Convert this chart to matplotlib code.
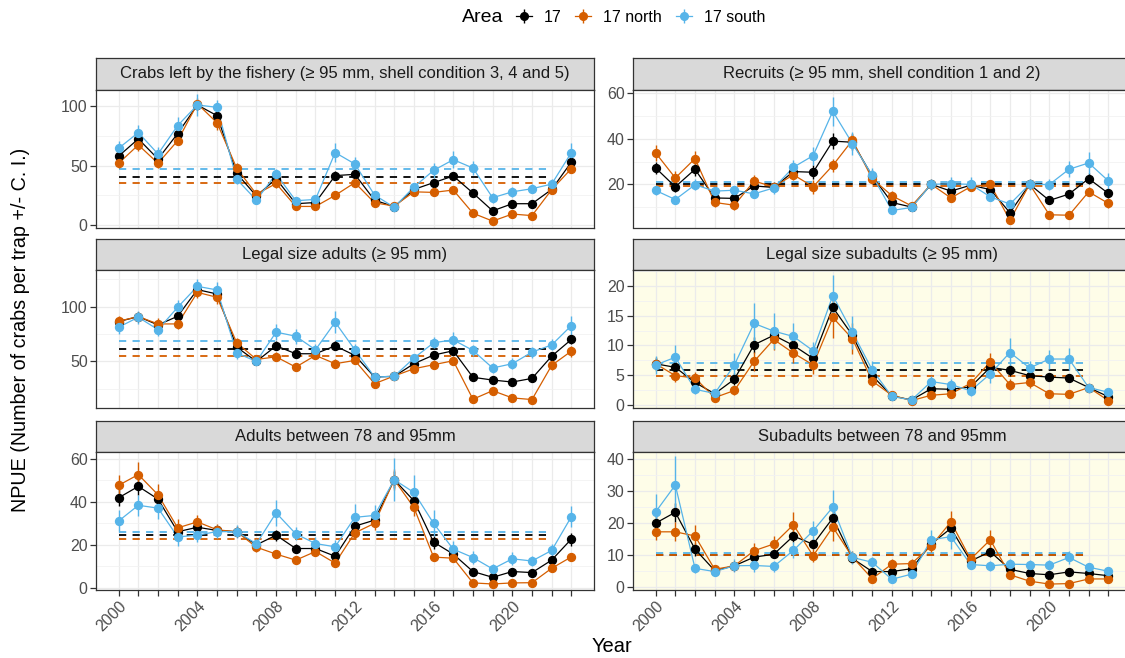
import matplotlib
matplotlib.use('Agg')
from matplotlib import pyplot as plt
from matplotlib.lines import Line2D
from matplotlib.legend_handler import HandlerTuple
from matplotlib.ticker import MultipleLocator

plt.rcParams['font.family'] = ['Liberation Sans', 'DejaVu Sans']

years = list(range(2000, 2024))
areas = ['17', '17 north', '17 south']
colors = ['#000000', '#D55E00', '#56B4E9']

# crabs left by the fishery
left_17 = [58, 72.5, 55.6, 77, 101, 92, 43.5, 24.4, 39, 18, 19, 41.6, 42.7, 21, 15.5, 30, 35.7, 41.3, 27, 12, 18, 18, 30, 53]
left_north = [52, 67.4, 52, 71, 102, 86, 47.8, 26, 35, 15.7, 15.7, 25, 35.7, 18.8, 16, 28, 27.5, 29.5, 10, 3.4, 9.3, 8, 29.8, 47.5]
left_south = [64.6, 77.8, 59.8, 83.7, 101, 99, 38.5, 21, 43, 20.5, 21.6, 61, 51.4, 25.3, 15, 32, 46, 55, 48, 23, 28, 30.6, 34.5, 61]
left_17_ci = [3, 3, 3, 3, 4, 4, 3, 2, 3, 2, 2, 4, 3, 2, 2, 2, 3, 3, 3, 2, 2, 2, 2, 3]
left_north_ci = [4, 5, 4, 4, 5, 6, 4, 3, 4, 3, 2, 3, 4, 3, 2, 3, 3, 3, 3, 2, 2, 2, 3, 4]
left_south_ci = [6, 6, 6, 7, 9, 6, 4, 3, 4, 3, 3, 8, 6, 3, 2, 3, 6, 7, 6, 4, 4, 4, 4, 8]
left_means = [40.7, 35.4, 47]

# recruits
rec_17 = [27.2, 18.9, 26.6, 14, 13.8, 19.3, 18.6, 25.6, 25.3, 39, 38.5, 23.7, 12, 10, 20, 17, 19.6, 17.7, 7.5, 20, 12.9, 15.7, 22.5, 16]
rec_north = [33.8, 22.8, 31.3, 12, 10.8, 21.4, 18.9, 24.2, 18.9, 28.3, 39.4, 22.5, 15, 10.5, 20, 14, 18.9, 20, 4.2, 20, 6.6, 6.4, 16.7, 11.6]
rec_south = [17.3, 13.3, 19.8, 17, 17.4, 15.8, 18.4, 27.5, 32.6, 52.1, 37.9, 24, 8.5, 9.8, 20, 20.2, 20, 14.5, 11.3, 20, 19.9, 26.6, 29.4, 21.5]
rec_17_ci = [2.5, 2.5, 3, 2, 2, 2, 2, 2.5, 3, 3.5, 3.5, 2.5, 2, 1.5, 2, 2, 2, 2, 1.5, 2, 1.5, 2, 2.5, 2]
rec_north_ci = [3.5, 3, 3.5, 2, 2, 2.5, 2, 2.5, 3, 3, 3, 2.5, 2, 1.5, 2, 2, 2, 2, 1.5, 2, 1.5, 1.5, 2, 2]
rec_south_ci = [2, 2, 2.5, 2, 2, 2, 2.5, 3, 4, 6.5, 5, 3, 1.5, 1.5, 2.5, 3, 3, 2, 2, 2.5, 2.5, 3.5, 5, 3.5]
rec_means = [20.2, 19.2, 21.2]

# legal size adults
legal_17 = [86.4, 90.9, 83.3, 91.2, 115.5, 111.5, 63, 50, 64.2, 57, 57, 64.2, 55.5, 35.8, 36.4, 47.9, 55.8, 59.7, 35.5, 33, 31.2, 34.5, 54.8, 70]
legal_north = [86.7, 90.9, 84.2, 84.2, 113, 108.5, 67, 51.8, 54.2, 44.8, 55.5, 47.9, 50.9, 29.7, 36.7, 43.3, 47, 50.6, 15.5, 23.3, 16.7, 15.2, 46.4, 59.4]
legal_south = [81.2, 90.3, 79, 99.4, 118.5, 115.2, 57.6, 50, 76.7, 73, 60.6, 85.8, 60.6, 35.8, 36.4, 53, 67, 69.7, 60, 44, 47.9, 58.5, 65, 82.7]
legal_17_ci = [4, 4, 4, 4, 5, 5, 4, 3, 4, 3, 3, 4, 3, 3, 2, 3, 3, 4, 3, 3, 3, 3, 3, 4]
legal_north_ci = [5, 4, 5, 5, 5, 6, 4, 3, 4, 3, 3, 4, 3, 3, 2, 3, 4, 4, 3, 3, 2, 2, 4, 5]
legal_south_ci = [6, 6, 6, 7, 7, 7, 5, 3, 7, 7, 5, 10, 5, 3, 2, 4, 5, 7, 5, 5, 5, 5, 5, 9]
legal_means = [61.5, 54.8, 69]

# legal size subadults
sub_17 = [6.9, 6.3, 3.75, 1.85, 4.3, 10.1, 11.7, 10, 7.8, 16.4, 11.7, 4.9, 1.5, 0.8, 2.7, 2.6, 3, 6.3, 5.8, 4.9, 4.65, 4.5, 2.9, 1.35]
sub_north = [6.9, 4.9, 4.5, 1.2, 2.4, 7.3, 11, 8.7, 6.7, 14.7, 11.1, 4, 1.6, 0.7, 1.6, 1.85, 3.6, 7.2, 3.4, 3.75, 1.85, 1.75, 2.9, 0.7]
sub_south = [6.7, 8, 2.6, 1.9, 6.7, 13.7, 12.4, 11.5, 9.1, 18.4, 12.2, 5.9, 1.4, 0.8, 3.9, 3.4, 2.35, 5.2, 8.8, 6.2, 7.7, 7.7, 2.9, 2.1]
sub_17_ci = [1, 1, 0.7, 0.5, 1, 1.3, 1.2, 1.2, 1, 1.6, 1.3, 0.8, 0.4, 0.3, 0.6, 0.6, 0.6, 1, 0.9, 0.7, 0.7, 0.7, 0.5, 0.4]
sub_north_ci = [1.2, 1, 1, 0.5, 0.8, 1.6, 1.8, 1.6, 1.5, 3.5, 2.6, 1, 0.4, 0.3, 0.5, 0.6, 0.8, 1.5, 1, 0.9, 0.5, 0.5, 0.5, 0.4]
sub_south_ci = [1.5, 2, 0.8, 0.6, 2, 3.5, 3, 2.3, 1.5, 3.5, 2.8, 1.4, 0.4, 0.3, 1, 1, 0.8, 1.6, 2.5, 1.2, 1.6, 1.8, 0.6, 0.6]
sub_means = [5.9, 4.9, 6.95]

# adults between 78 and 95 mm
ad_17 = [41.8, 47.1, 41.2, 26, 28.1, 26.6, 26, 19.9, 24.4, 18.2, 18.2, 14.6, 28.6, 31.4, 50.2, 40.4, 21.2, 15.6, 7.5, 4.8, 7.5, 7, 12.8, 22.6]
ad_north = [47.6, 52.6, 43.2, 27.8, 30.6, 26.9, 26, 18.8, 15.6, 12.8, 16.8, 11.4, 25.5, 29.9, 50.2, 37.3, 14.2, 13.7, 2.2, 1.7, 2.2, 2.3, 9, 14.3]
ad_south = [31, 38.3, 37, 23.6, 24.4, 26.1, 26, 20.4, 34.8, 25, 20.5, 19, 32.7, 33.6, 50.2, 44.3, 29.9, 17.9, 14, 8.7, 13.4, 12.4, 17.3, 33]
ad_17_ci = [4, 4, 3, 2.5, 2.5, 2, 2, 2, 2.5, 2, 2, 2, 3, 3, 4, 3.5, 3, 2, 1.5, 1, 1.5, 1.5, 2, 3]
ad_north_ci = [5, 6, 5, 4, 3, 2.5, 2.5, 2, 2, 2, 2, 2, 3, 3, 5, 4, 2, 2, 1, 0.8, 1, 1, 1.5, 2]
ad_south_ci = [5, 5, 5, 4, 3, 3, 3, 2, 6, 3, 3, 3, 6, 5, 10, 8, 6, 4, 3, 2.5, 3, 2.5, 3, 5]
ad_means = [24.3, 22.6, 26.1]

# subadults between 78 and 95 mm
sa_17 = [20, 23.4, 11.9, 5.2, 6.7, 9.4, 10.3, 16, 13.4, 21.6, 9, 4.9, 4.9, 5.8, 13.5, 18.4, 8.2, 11.1, 5.6, 4.3, 3.9, 4.8, 4.3, 3.6]
sa_north = [17.3, 17.3, 16, 5.6, 6.7, 11.4, 13.5, 19.5, 9.8, 18.8, 9.4, 2.7, 7.2, 7.4, 12.9, 20.4, 8.75, 14.8, 3.9, 1.9, 1, 1.15, 2.6, 2.6]
sa_south = [23.5, 31.9, 5.9, 4.9, 6.7, 6.8, 6.5, 11.5, 17.6, 25, 9.3, 7.8, 2.5, 4.1, 14.8, 15.8, 7.1, 6.7, 7.2, 7.1, 6.9, 9.3, 6.25, 5]
sa_17_ci = [2.5, 3, 2, 1, 1, 1.2, 1.2, 1.8, 1.6, 3, 1.3, 1, 0.8, 1, 1.5, 2, 1.2, 1.5, 1, 0.8, 0.7, 0.8, 0.8, 0.7]
sa_north_ci = [2.5, 3, 3.5, 1, 1, 2.5, 2.5, 4, 2, 4.5, 1.8, 0.8, 1.5, 1.5, 2, 3.5, 1.5, 3, 1, 0.6, 0.4, 0.4, 0.8, 0.8]
sa_south_ci = [5.5, 9, 1.5, 1, 2, 2, 1.8, 2.5, 3, 5.5, 2, 1.8, 0.8, 1, 3, 4, 1.5, 1.5, 1.5, 1.5, 1.5, 2, 1, 1]
sa_means = [10.2, 10.0, 10.6]

titles = ['Crabs left by the fishery (≥ 95 mm, shell condition 3, 4 and 5)',
          'Recruits (≥ 95 mm, shell condition 1 and 2)',
          'Legal size adults (≥ 95 mm)',
          'Legal size subadults (≥ 95 mm)',
          'Adults between 78 and 95mm',
          'Subadults between 78 and 95mm']

panels = [
    ([left_17, left_north, left_south], [left_17_ci, left_north_ci, left_south_ci], left_means),
    ([rec_17, rec_north, rec_south], [rec_17_ci, rec_north_ci, rec_south_ci], rec_means),
    ([legal_17, legal_north, legal_south], [legal_17_ci, legal_north_ci, legal_south_ci], legal_means),
    ([sub_17, sub_north, sub_south], [sub_17_ci, sub_north_ci, sub_south_ci], sub_means),
    ([ad_17, ad_north, ad_south], [ad_17_ci, ad_north_ci, ad_south_ci], ad_means),
    ([sa_17, sa_north, sa_south], [sa_17_ci, sa_north_ci, sa_south_ci], sa_means),
]

# layout (pixels)
W, H = 1125, 658
col_x = [96, 633]
strip_top = [58, 238.5, 420.5]
strip_h = 31.5
panel_w = 498
panel_h = 138
ylims = [(-2, 114), (1, 61.7), (7.5, 133.4), (-0.55, 22.7), (-1.1, 63.1), (-0.85, 42.2)]
ysteps = [50, 20, 50, 5, 20, 10]
yellow = [False, False, False, True, False, True]


def rect(x, y, w, h):
    return [x / W, 1 - (y + h) / H, w / W, h / H]


fig = plt.figure(figsize=(W / 100, H / 100), dpi=100)

for i, (vals, cis, means) in enumerate(panels):
    row, col = i // 2, i % 2
    x0 = col_x[col]
    y0 = strip_top[row]

    sax = fig.add_axes(rect(x0, y0, panel_w, strip_h))
    sax.set_facecolor('#D9D9D9')
    sax.set_xticks([])
    sax.set_yticks([])
    for sp in sax.spines.values():
        sp.set_color('#333333')
        sp.set_linewidth(0.9)
    sax.text(0.5, 0.5, titles[i], ha='center', va='center', fontsize=12,
             color='#1A1A1A', transform=sax.transAxes)

    ax = fig.add_axes(rect(x0, y0 + strip_h, panel_w, panel_h))
    ax.set_facecolor('#FEFDE8' if yellow[i] else 'white')
    for sp in ax.spines.values():
        sp.set_color('#333333')
        sp.set_linewidth(0.9)

    for j in range(3):
        ax.hlines(means[j], 2000, 2022, colors=colors[j], linestyles=(0, (4, 3.5)),
                  linewidth=1.3, zorder=2)
    for j in range(3):
        ax.plot(years, vals[j], color=colors[j], linewidth=0.9, zorder=3)
    for j in range(3):
        ax.errorbar(years, vals[j], yerr=cis[j], fmt='o', color=colors[j], ms=5.7,
                    elinewidth=1.0, capsize=0, zorder=4)

    ax.set_xlim(1998.85, 2024.15)
    ax.set_ylim(*ylims[i])
    ax.set_xticks(years)
    ax.yaxis.set_major_locator(MultipleLocator(ysteps[i]))
    ax.yaxis.set_minor_locator(MultipleLocator(ysteps[i] / 2))
    ax.grid(True, which='major', color='#EBEBEB', linewidth=0.9, zorder=0)
    ax.grid(True, which='minor', axis='y', color='#F2F2F2', linewidth=0.6, zorder=0)
    ax.set_axisbelow(True)
    ax.tick_params(axis='y', which='major', length=4, width=0.9, color='#333333',
                   labelsize=11.5, labelcolor='#4D4D4D', pad=2)
    ax.tick_params(axis='y', which='minor', length=0)
    if row == 2:
        ax.set_xticklabels([str(y) if y % 4 == 0 else '' for y in years])
        ax.tick_params(axis='x', length=4, width=0.9, color='#333333',
                       labelsize=11.5, labelcolor='#4D4D4D', pad=2)
        for lab in ax.get_xticklabels():
            lab.set_rotation(45)
            lab.set_ha('right')
            lab.set_rotation_mode('anchor')
    else:
        ax.tick_params(axis='x', length=0, labelbottom=False)

fig.text(21 / W, 1 - 330 / H, 'NPUE (Number of crabs per trap +/- C. I.)', rotation=90,
         ha='center', va='center', fontsize=14.2, color='black')
fig.text(612 / W, 1 - 647 / H, 'Year', ha='center', va='center', fontsize=14.5, color='black')

handles = []
for c in colors:
    handles.append((Line2D([], [], color=c, linewidth=0.9),
                    Line2D([], [], color=c, marker='|', ms=10, mew=1.0, linestyle=''),
                    Line2D([], [], color=c, marker='o', ms=5.5, linestyle='')))
fig.text(462 / W, 1 - 17 / H, 'Area', ha='left', va='center', fontsize=14)
fig.legend(handles, areas, handler_map={tuple: HandlerTuple(ndivide=1)},
           loc='center left', bbox_to_anchor=(516 / W, 1 - 17 / H), ncol=3,
           frameon=False, fontsize=11.5, handlelength=1.0, handletextpad=0.75,
           columnspacing=0.85, borderaxespad=0, borderpad=0)

fig.savefig('out.png', dpi=100)
